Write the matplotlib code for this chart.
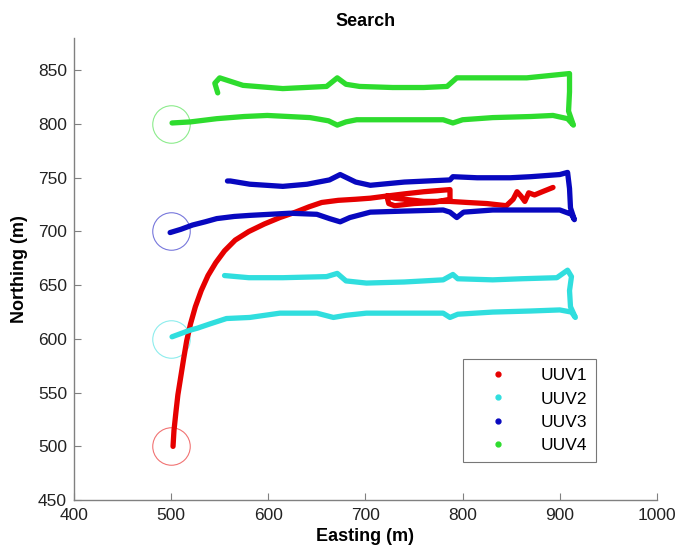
import matplotlib
matplotlib.use('Agg')
import matplotlib.pyplot as plt
from matplotlib.lines import Line2D

# vehicle names, colours and start points
names = ['UUV1', 'UUV2', 'UUV3', 'UUV4']
colors = ['#e60000', '#30dede', '#0808bf', '#2edc2e']
start_x = [500, 500, 500, 500]
start_y = [500, 600, 700, 800]

# tracks (easting, northing in m)
uuv1_x = [502, 503, 505, 507, 510, 513, 516, 520, 525, 531, 538, 546, 555, 566, 580, 596, 612,
          628, 642, 655, 672, 690, 705, 722, 740, 760, 787, 787, 770, 750, 730, 724, 722, 730,
          760, 787, 805, 825, 845, 852, 856, 860, 864, 868, 874, 882, 893]
uuv1_y = [500, 515, 532, 548, 565, 582, 598, 614, 630, 645, 659, 671, 682, 692, 700, 707, 713,
          718, 723, 727, 729, 730, 731, 733, 735, 737, 739, 730, 727, 726, 724, 726, 733, 731,
          728, 728, 727, 726, 724, 730, 737, 733, 728, 736, 734, 737, 741]

uuv2_x = [501, 510, 519, 527, 540, 557, 581, 612, 650, 667, 680, 701, 740, 780, 787, 795,
          831, 870, 900, 912, 916, 911, 910, 912, 908, 897, 860, 831, 795, 790, 780, 740,
          701, 680, 671, 660, 615, 580, 555]
uuv2_y = [602, 605, 608, 610, 614, 619, 620, 624, 624, 620, 622, 624, 624, 624, 620, 623,
          625, 626, 627, 625, 620, 630, 645, 658, 664, 657, 656, 655, 656, 660, 655, 653,
          652, 654, 661, 658, 657, 657, 659]

uuv3_x = [499, 510, 522, 535, 547, 565, 581, 622, 650, 663, 674, 684, 705, 740, 780, 787,
          794, 801, 831, 870, 900, 912, 915, 911, 910, 908, 900, 870, 849, 815, 790, 787,
          740, 705, 690, 674, 663, 640, 615, 581, 561, 558]
uuv3_y = [699, 702, 706, 709, 712, 714, 715, 717, 716, 712, 709, 713, 718, 719, 720, 718,
          713, 718, 720, 720, 720, 716, 711, 722, 740, 755, 753, 751, 750, 750, 751, 748,
          746, 743, 746, 753, 748, 744, 742, 744, 747, 747]

uuv4_x = [501, 520, 547, 575, 599, 643, 662, 671, 680, 691, 740, 780, 790, 800, 831, 870,
          893, 908, 914, 909, 910, 910, 866, 830, 794, 784, 760, 728, 694, 680, 671, 660,
          615, 574, 550, 545, 548]
uuv4_y = [801, 802, 805, 807, 808, 806, 803, 799, 802, 804, 804, 804, 801, 804, 806, 807,
          808, 805, 799, 812, 830, 847, 843, 843, 843, 835, 834, 834, 835, 837, 843, 835,
          833, 836, 843, 838, 829]

tracks = [(uuv1_x, uuv1_y), (uuv2_x, uuv2_y), (uuv3_x, uuv3_y), (uuv4_x, uuv4_y)]

plt.rcParams['font.family'] = ['Liberation Sans', 'DejaVu Sans']

fig = plt.figure(figsize=(6.78, 5.52), dpi=100)
ax = fig.add_axes([0.109, 0.094, 0.860, 0.837])

# start circles
for sx, sy, c in zip(start_x, start_y, colors):
    ax.plot(sx, sy, 'o', ms=27, mfc='none', mec=c, mew=0.8, alpha=0.55, zorder=1)

for (tx, ty), c in zip(tracks, colors):
    ax.plot(tx, ty, '-', color=c, lw=3.8, solid_capstyle='round', solid_joinstyle='round', zorder=2)

ax.set_xlim(400, 1000)
ax.set_ylim(450, 880)
ax.set_xticks([400, 500, 600, 700, 800, 900, 1000])
ax.set_yticks([450, 500, 550, 600, 650, 700, 750, 800, 850])
ax.tick_params(direction='in', length=5, color='#808080', labelsize=12.5, labelcolor='#222222')
ax.tick_params(axis='x', pad=6)
ax.tick_params(axis='y', pad=5)
for side in ['top', 'right']:
    ax.spines[side].set_visible(False)
for side in ['left', 'bottom']:
    ax.spines[side].set_color('#808080')
    ax.spines[side].set_linewidth(1.0)

ax.set_title('Search', fontsize=13, fontweight='bold', pad=9)
ax.set_xlabel('Easting (m)', fontsize=13, fontweight='bold', labelpad=3)
ax.set_ylabel('Northing (m)', fontsize=13, fontweight='bold', labelpad=7)

handles = [Line2D([], [], ls='none', marker='.', ms=7, color=c) for c in colors]
leg = ax.legend(handles, names, loc='upper left', bbox_to_anchor=(0.667, 0.305),
                fontsize=12.5, fancybox=False, frameon=True, borderpad=0.5,
                labelspacing=0.48, handletextpad=1.0, borderaxespad=0, handlelength=3.0)
leg.get_frame().set_edgecolor('#555555')
leg.get_frame().set_linewidth(0.8)

fig.savefig('out.png', dpi=100)
